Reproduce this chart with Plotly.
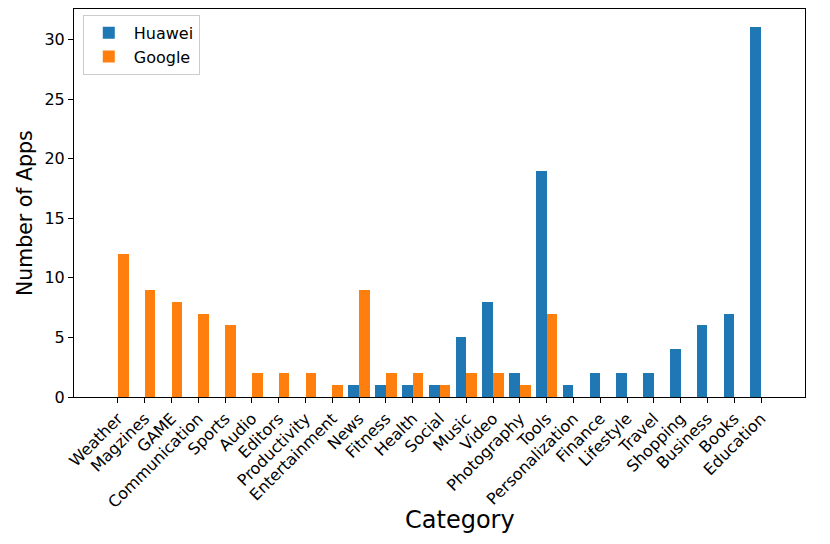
import plotly.graph_objects as go

categories = ['Weather', 'Magzines', 'GAME', 'Communication', 'Sports', 'Audio',
              'Editors', 'Productivity', 'Entertainment', 'News', 'Fitness',
              'Health', 'Social', 'Music', 'Video', 'Photography', 'Tools',
              'Personalization', 'Finance', 'Lifestyle', 'Travel', 'Shopping',
              'Business', 'Books', 'Education']
huawei = [0, 0, 0, 0, 0, 0, 0, 0, 0, 1, 1, 1, 1, 5, 8, 2, 19, 1, 2, 2, 2, 4, 6, 7, 31]
google = [12, 9, 8, 7, 6, 2, 2, 2, 1, 9, 2, 2, 1, 2, 2, 1, 7, 0, 0, 0, 0, 0, 0, 0, 0]

x = list(range(len(categories)))
w = 0.4

fig = go.Figure()
fig.add_trace(go.Bar(x=[i - w / 2 for i in x], y=huawei, width=w, name='Huawei',
                     marker=dict(color='#1f77b4', line=dict(width=0))))
fig.add_trace(go.Bar(x=[i + w / 2 for i in x], y=google, width=w, name='Google',
                     marker=dict(color='#ff7f0e', line=dict(width=0))))

axis_common = dict(showline=True, linecolor='black', linewidth=1, mirror=True,
                   ticks='outside', ticklen=5, tickcolor='black', showgrid=False,
                   zeroline=False, automargin=False,
                   tickfont=dict(size=16, color='black'))

fig.update_layout(
    width=830, height=544,
    margin=dict(l=66, r=33, t=1, b=155),
    plot_bgcolor='white', paper_bgcolor='white',
    font=dict(family='DejaVu Sans', color='black'),
    barmode='overlay', bargap=0,
    showlegend=True,
    legend=dict(x=0.012, y=0.985, xanchor='left', yanchor='top',
                bgcolor='rgba(255,255,255,0.8)', bordercolor='#cccccc', borderwidth=1,
                font=dict(size=16), itemwidth=40),
    xaxis=dict(axis_common, range=[-1.64, 25.64], tickmode='array', tickvals=x,
               ticktext=categories, tickangle=-45),
    yaxis=dict(axis_common, range=[0, 32.55], tickvals=[0, 5, 10, 15, 20, 25, 30]),
)

# axis titles as annotations (matplotlib had them a bit off-centre)
fig.add_annotation(text='Category', xref='paper', yref='paper', x=0.528, y=-0.318,
                   xanchor='center', yanchor='middle', showarrow=False,
                   font=dict(size=24))
fig.add_annotation(text='Number of Apps', xref='paper', yref='paper', x=-0.067, y=0.474,
                   xanchor='center', yanchor='middle', showarrow=False, textangle=-90,
                   font=dict(size=20.5))

fig.write_html("out.html")
